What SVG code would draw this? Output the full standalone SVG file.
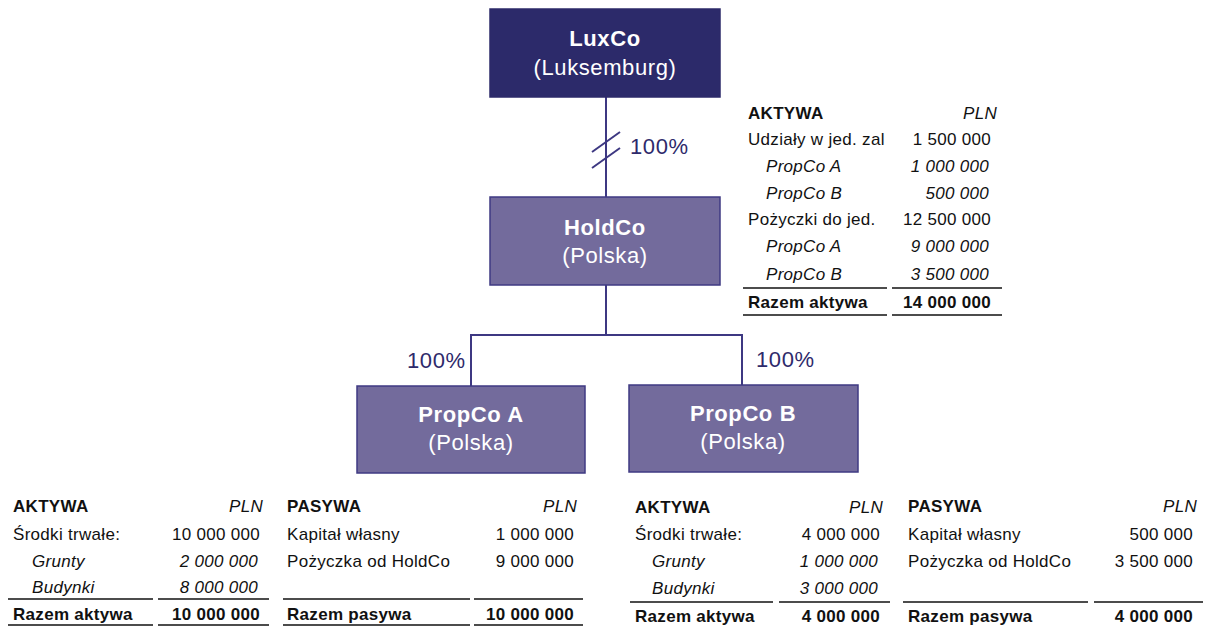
<svg xmlns="http://www.w3.org/2000/svg" width="1206" height="627" viewBox="0 0 1206 627">
  <style>
    .box { fill: #736b9c; stroke: #3f3a83; stroke-width: 1.5; }
    .top { fill: #2c2a6a; stroke: #2c2a6a; }
    .bt { font-family: "Liberation Sans", Arial, sans-serif; font-size: 22px; fill: #ffffff; text-anchor: middle; letter-spacing: 0.6px; }
    .b { font-weight: bold; }
    .conn { stroke: #3d3882; stroke-width: 2; fill: none; }
    .pct { font-family: "Liberation Sans", Arial, sans-serif; font-size: 22px; fill: #2e2a6b; letter-spacing: 0.6px; }
    .t { font-family: "Liberation Sans", Arial, sans-serif; font-size: 17px; fill: #111111; letter-spacing: 0.3px; }
    .tb { font-weight: bold; }
    .ti { font-style: italic; }
    .r { text-anchor: end; }
    .rule { stroke: #111111; stroke-width: 1.5; }
  </style>

  <!-- ownership connectors -->
  <g id="connectors">
    <line class="conn" x1="606" y1="97" x2="606" y2="197"/>
    <line class="conn" x1="592" y1="152" x2="620" y2="132"/>
    <line class="conn" x1="592" y1="168" x2="620" y2="148"/>
    <text class="pct" x="630" y="154">100%</text>
    <polyline class="conn" points="606,285 606,335"/>
    <polyline class="conn" points="471,386 471,335 742,335 742,386"/>
    <text class="pct" x="407" y="368">100%</text>
    <text class="pct" x="756" y="367">100%</text>
  </g>

  <g id="luxco">
    <rect class="box top" x="490" y="9" width="230" height="88"/>
    <text class="bt b" x="605" y="46">LuxCo</text>
    <text class="bt" x="605" y="75">(Luksemburg)</text>
  </g>

  <g id="holdco">
    <rect class="box" x="490" y="197" width="230" height="88"/>
    <text class="bt b" x="605" y="235">HoldCo</text>
    <text class="bt" x="605" y="263">(Polska)</text>
  </g>

  <g id="propco-a">
    <rect class="box" x="357" y="386" width="228" height="87"/>
    <text class="bt b" x="471" y="422">PropCo A</text>
    <text class="bt" x="471" y="450">(Polska)</text>
  </g>

  <g id="propco-b">
    <rect class="box" x="629" y="385" width="229" height="87"/>
    <text class="bt b" x="743" y="421">PropCo B</text>
    <text class="bt" x="743" y="449">(Polska)</text>
  </g>

  <!-- HoldCo balance sheet -->
  <g id="holdco-aktywa">
    <text class="t tb" x="748" y="119">AKTYWA</text>
    <text class="t ti r" x="997" y="119">PLN</text>
    <text class="t" x="748" y="145">Udziały w jed. zal</text>
    <text class="t r" x="991" y="145">1 500 000</text>
    <text class="t ti" x="766" y="172">PropCo A</text>
    <text class="t ti r" x="989" y="172">1 000 000</text>
    <text class="t ti" x="766" y="199">PropCo B</text>
    <text class="t ti r" x="989" y="199">500 000</text>
    <text class="t" x="748" y="225">Pożyczki do jed.</text>
    <text class="t r" x="991" y="225">12 500 000</text>
    <text class="t ti" x="766" y="252">PropCo A</text>
    <text class="t ti r" x="989" y="252">9 000 000</text>
    <text class="t ti" x="766" y="280">PropCo B</text>
    <text class="t ti r" x="989" y="280">3 500 000</text>
    <line class="rule" x1="743" y1="288" x2="887" y2="288"/>
    <line class="rule" x1="892" y1="288" x2="1002" y2="288"/>
    <text class="t tb" x="748" y="308">Razem aktywa</text>
    <text class="t tb r" x="991" y="308">14 000 000</text>
    <line class="rule" x1="743" y1="315" x2="887" y2="315"/>
    <line class="rule" x1="892" y1="315" x2="1002" y2="315"/>
  </g>

  <!-- PropCo A balance sheet -->
  <g id="propco-a-aktywa">
    <text class="t tb" x="13" y="512">AKTYWA</text>
    <text class="t ti r" x="263" y="512">PLN</text>
    <text class="t" x="13" y="540">Środki trwałe:</text>
    <text class="t r" x="260" y="540">10 000 000</text>
    <text class="t ti" x="32" y="567">Grunty</text>
    <text class="t ti r" x="258" y="567">2 000 000</text>
    <text class="t ti" x="32" y="593">Budynki</text>
    <text class="t ti r" x="258" y="593">8 000 000</text>
    <line class="rule" x1="8" y1="599" x2="153" y2="599"/>
    <line class="rule" x1="158" y1="599" x2="269" y2="599"/>
    <text class="t tb" x="13" y="620">Razem aktywa</text>
    <text class="t tb r" x="260" y="620">10 000 000</text>
    <line class="rule" x1="8" y1="625" x2="153" y2="625"/>
    <line class="rule" x1="158" y1="625" x2="269" y2="625"/>
  </g>

  <g id="propco-a-pasywa">
    <text class="t tb" x="287" y="512">PASYWA</text>
    <text class="t ti r" x="577" y="512">PLN</text>
    <text class="t" x="287" y="540">Kapitał własny</text>
    <text class="t r" x="574" y="540">1 000 000</text>
    <text class="t" x="287" y="567">Pożyczka od HoldCo</text>
    <text class="t r" x="574" y="567">9 000 000</text>
    <line class="rule" x1="283" y1="599" x2="470" y2="599"/>
    <line class="rule" x1="474" y1="599" x2="583" y2="599"/>
    <text class="t tb" x="287" y="620">Razem pasywa</text>
    <text class="t tb r" x="574" y="620">10 000 000</text>
    <line class="rule" x1="283" y1="625" x2="470" y2="625"/>
    <line class="rule" x1="474" y1="625" x2="583" y2="625"/>
  </g>

  <!-- PropCo B balance sheet -->
  <g id="propco-b-aktywa">
    <text class="t tb" x="635" y="513">AKTYWA</text>
    <text class="t ti r" x="883" y="513">PLN</text>
    <text class="t" x="635" y="540">Środki trwałe:</text>
    <text class="t r" x="880" y="540">4 000 000</text>
    <text class="t ti" x="652" y="567">Grunty</text>
    <text class="t ti r" x="878" y="567">1 000 000</text>
    <text class="t ti" x="652" y="594">Budynki</text>
    <text class="t ti r" x="878" y="594">3 000 000</text>
    <line class="rule" x1="630" y1="602" x2="773" y2="602"/>
    <line class="rule" x1="779" y1="602" x2="890" y2="602"/>
    <text class="t tb" x="635" y="622">Razem aktywa</text>
    <text class="t tb r" x="880" y="622">4 000 000</text>
  </g>

  <g id="propco-b-pasywa">
    <text class="t tb" x="908" y="512">PASYWA</text>
    <text class="t ti r" x="1197" y="512">PLN</text>
    <text class="t" x="908" y="540">Kapitał własny</text>
    <text class="t r" x="1193" y="540">500 000</text>
    <text class="t" x="908" y="567">Pożyczka od HoldCo</text>
    <text class="t r" x="1193" y="567">3 500 000</text>
    <line class="rule" x1="903" y1="602" x2="1088" y2="602"/>
    <line class="rule" x1="1094" y1="602" x2="1203" y2="602"/>
    <text class="t tb" x="908" y="622">Razem pasywa</text>
    <text class="t tb r" x="1193" y="622">4 000 000</text>
  </g>
</svg>
